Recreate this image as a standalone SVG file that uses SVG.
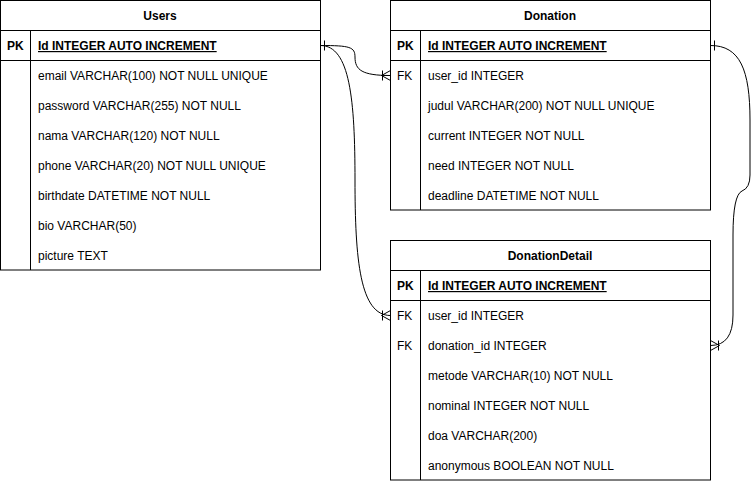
<svg xmlns="http://www.w3.org/2000/svg" width="751" height="481" viewBox="0 0 751 481">
<style>
.box{fill:#fff;stroke:#000;stroke-width:1}
.ln{fill:none;stroke:#000;stroke-width:1}
.t{font-family:"Liberation Sans",Arial,sans-serif;font-size:12px;fill:#000}
.h{font-weight:bold;text-anchor:middle}
.b{font-weight:bold}
.u{text-decoration:underline}
.e{fill:none;stroke:#000;stroke-width:1}
</style>
<rect width="751" height="481" fill="#fff"/>
<g id="users">
<rect class="box" x="0.5" y="0.5" width="320" height="269.5"/>
<line class="ln" x1="0.5" y1="30.5" x2="320.5" y2="30.5"/>
<line class="ln" x1="0.5" y1="60.5" x2="320.5" y2="60.5"/>
<line class="ln" x1="30.5" y1="30.5" x2="30.5" y2="270"/>
<text class="t h" x="160" y="20">Users</text>
<text class="t b" x="7" y="50">PK</text>
<text class="t b u" x="38" y="50">Id INTEGER AUTO INCREMENT</text>
<text class="t" x="38" y="80">email VARCHAR(100) NOT NULL UNIQUE</text>
<text class="t" x="38" y="110">password VARCHAR(255) NOT NULL</text>
<text class="t" x="38" y="140">nama VARCHAR(120) NOT NULL</text>
<text class="t" x="38" y="170">phone VARCHAR(20) NOT NULL UNIQUE</text>
<text class="t" x="38" y="200">birthdate DATETIME NOT NULL</text>
<text class="t" x="38" y="230">bio VARCHAR(50)</text>
<text class="t" x="38" y="260">picture TEXT</text>
</g>
<g id="donation">
<rect class="box" x="390.5" y="0.5" width="320" height="209.5"/>
<line class="ln" x1="390.5" y1="30.5" x2="710.5" y2="30.5"/>
<line class="ln" x1="390.5" y1="60.5" x2="710.5" y2="60.5"/>
<line class="ln" x1="420.5" y1="30.5" x2="420.5" y2="210"/>
<text class="t h" x="550" y="20">Donation</text>
<text class="t b" x="397" y="50">PK</text>
<text class="t b u" x="428" y="50">Id INTEGER AUTO INCREMENT</text>
<text class="t" x="397" y="80">FK</text>
<text class="t" x="428" y="80">user_id INTEGER</text>
<text class="t" x="428" y="110">judul VARCHAR(200) NOT NULL UNIQUE</text>
<text class="t" x="428" y="140">current INTEGER NOT NULL</text>
<text class="t" x="428" y="170">need INTEGER NOT NULL</text>
<text class="t" x="428" y="200">deadline DATETIME NOT NULL</text>
</g>
<g id="donationdetail">
<rect class="box" x="390.5" y="240.5" width="320" height="239.5"/>
<line class="ln" x1="390.5" y1="270.5" x2="710.5" y2="270.5"/>
<line class="ln" x1="390.5" y1="300.5" x2="710.5" y2="300.5"/>
<line class="ln" x1="420.5" y1="270.5" x2="420.5" y2="480"/>
<text class="t h" x="550" y="260">DonationDetail</text>
<text class="t b" x="397" y="290">PK</text>
<text class="t b u" x="428" y="290">Id INTEGER AUTO INCREMENT</text>
<text class="t" x="397" y="320">FK</text>
<text class="t" x="428" y="320">user_id INTEGER</text>
<text class="t" x="397" y="350">FK</text>
<text class="t" x="428" y="350">donation_id INTEGER</text>
<text class="t" x="428" y="380">metode VARCHAR(10) NOT NULL</text>
<text class="t" x="428" y="410">nominal INTEGER NOT NULL</text>
<text class="t" x="428" y="440">doa VARCHAR(200)</text>
<text class="t" x="428" y="470">anonymous BOOLEAN NOT NULL</text>
</g>
<g id="connectors">
<path class="e" d="M320.5,45.5 C350,45.5 355,47 355,57 C355,70 362,75.5 390.5,75.5"/>
<path class="e" d="M324.5,40.5 L324.5,50.5"/>
<path class="e" d="M382.5,70.5 L382.5,80.5 M381.5,75.5 L390.5,70.5 M381.5,75.5 L390.5,80.5 M381.5,75.5 L390.5,75.5"/>
<path class="e" d="M320.5,45.5 C350,45.5 355,100 355,180 C355,260 360,315.5 390.5,315.5"/>
<path class="e" d="M382.5,310.5 L382.5,320.5 M381.5,315.5 L390.5,310.5 M381.5,315.5 L390.5,320.5"/>
<path class="e" d="M710.5,45.5 C740,45.5 750,70 750,120 L750,175 Q750,188 742,191 Q733,195 733,235 L733,315 Q733,345.5 710.5,345.5"/>
<path class="e" d="M714.5,40.5 L714.5,50.5"/>
<path class="e" d="M718.5,340.5 L718.5,350.5 M719.5,345.5 L710.5,340.5 M719.5,345.5 L710.5,350.5"/>
</g>
</svg>
